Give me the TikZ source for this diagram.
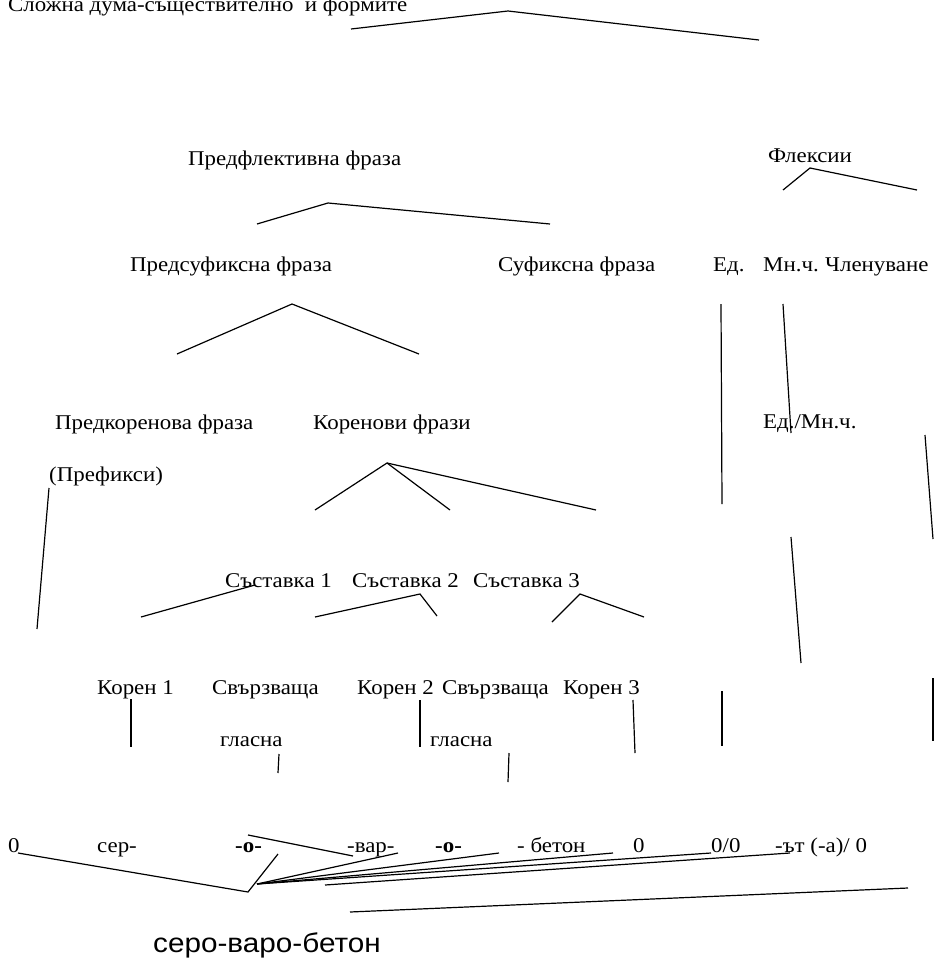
\documentclass[tikz,border=0pt]{standalone}
\usepackage{fontspec}
\setmainfont{Liberation Serif}[FakeStretch=1.09]
\newfontfamily\bottomfont{Liberation Sans}[FakeStretch=1.1]
\begin{document}
\begin{tikzpicture}[x=1pt,y=-1pt,
  lbl/.style={anchor=base west, inner sep=0pt, font=\fontsize{21}{24}\selectfont},
  bld/.style={lbl, font=\fontsize{21}{24}\selectfont\bfseries},
  ln/.style={line width=1.2pt, black}]
\useasboundingbox (0,0) rectangle (934,964);
% texts
\node[lbl] (title) at (8,11) {Сложна дума-съществително\ \ и формите};
\node[lbl] (pfl) at (188,165) {Предфлективна фраза};
\node[lbl] (flex) at (768,162) {Флексии};
\node[lbl] (psuf) at (130,271) {Предсуфиксна фраза};
\node[lbl] (suf) at (498,271) {Суфиксна фраза};
\node[lbl] (ed) at (713,271) {Ед.};
\node[lbl] (mn) at (763,271) {Мн.ч.};
\node[lbl] (chl) at (825,271) {Членуване};
\node[lbl] (pkor) at (55,429) {Предкоренова фраза};
\node[lbl] (kor) at (313,429) {Коренови фрази};
\node[lbl] (edmn) at (763,428) {Ед./Мн.ч.};
\node[lbl] (pref) at (49,481) {(Префикси)};
\node[lbl] (s1) at (225,587) {Съставка 1};
\node[lbl] (s2) at (352,587) {Съставка 2};
\node[lbl] (s3) at (473,587) {Съставка 3};
\node[lbl] (k1) at (97,694) {Корен 1};
\node[lbl] (sv1) at (212,694) {Свързваща};
\node[lbl] (k2) at (357,694) {Корен 2};
\node[lbl] (sv2) at (442,694) {Свързваща};
\node[lbl] (k3) at (563,694) {Корен 3};
\node[lbl] (gl1) at (220,746) {гласна};
\node[lbl] (gl2) at (430,746) {гласна};
\node[lbl] (m0) at (8,852) {0};
\node[lbl] (mser) at (97,852) {сер-};
\node[bld] (mo1) at (235,852) {-о-};
\node[lbl] (mvar) at (347,852) {-вар-};
\node[bld] (mo2) at (435,852) {-о-};
\node[lbl] (mbet) at (517,852) {- бетон};
\node[lbl] (mz) at (633,852) {0};
\node[lbl] (mzz) at (711,852) {0/0};
\node[lbl] (mart) at (775,852) {-ът (-а)/ 0};
\node[anchor=base west, inner sep=0pt, font=\bottomfont\fontsize{27}{30}\selectfont] (word) at (153,952) {серо-варо-бетон};
% lines
\draw[ln] (351,29) -- (508,11) -- (759,40);
\draw[ln] (783,190) -- (810,168) -- (917,190);
\draw[ln] (257,224) -- (328,203) -- (550,224);
\draw[ln] (177,354) -- (292,304) -- (419,354);
\draw[ln] (315,510) -- (387,463) -- (450,510);
\draw[ln] (387,463) -- (596,510);
\draw[ln] (49,488) -- (37,629);
\draw[ln] (141,617) -- (255,585);
\draw[ln] (315,617) -- (420,594) -- (437,616);
\draw[ln] (552,622) -- (580,594) -- (644,617);
\draw[ln] (131,699) -- (131,747);
\draw[ln] (279,754) -- (278,773);
\draw[ln] (420,700) -- (420,747);
\draw[ln] (509,753) -- (508,782);
\draw[ln] (633,700) -- (635,753);
\draw[ln] (721,304) -- (722,504);
\draw[ln] (783,304) -- (791,433);
\draw[ln] (925,435) -- (933,539);
\draw[ln] (791,537) -- (801,663);
\draw[ln] (722,691) -- (722,746);
\draw[ln] (933,678) -- (933,741);
\draw[ln] (18,853) -- (248,892) -- (278,854);
\draw[ln] (248,835) -- (353,856);
\draw[ln] (257,884) -- (398,853);
\draw[ln] (257,884) -- (499,853);
\draw[ln] (257,884) -- (613,853);
\draw[ln] (257,884) -- (711,853);
\draw[ln] (325,885) -- (790,853);
\draw[ln] (350,912) -- (908,888);
\end{tikzpicture}
\end{document}
